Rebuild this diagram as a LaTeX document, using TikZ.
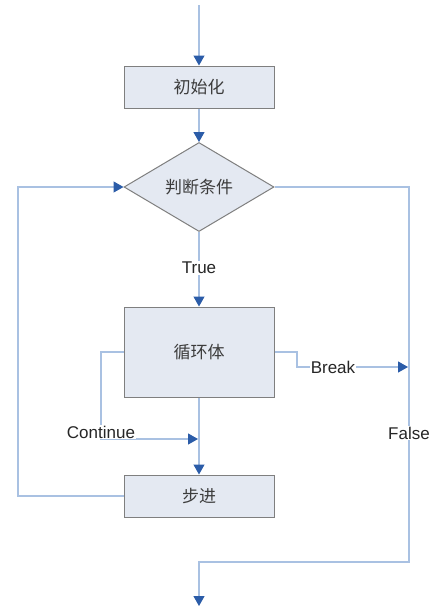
\documentclass[tikz,border=0pt]{standalone}
\usepackage{fontspec}
\setmainfont{Liberation Sans}
\newfontfamily\cjk{Noto Sans CJK SC}
\usetikzlibrary{arrows.meta,shapes.geometric}
\definecolor{lineblue}{HTML}{A9C1E2}
\definecolor{tipblue}{HTML}{2B5CA8}
\definecolor{boxfill}{HTML}{E4E9F2}
\definecolor{boxline}{HTML}{7F7F7F}
\definecolor{txtgray}{HTML}{3C3C3C}
\tikzset{
  stepbox/.style={draw=boxline, fill=boxfill, line width=1pt, minimum width=150pt,
    minimum height=42pt, inner sep=0pt, text=txtgray, font=\cjk\fontsize{17}{17}\selectfont},
  testbox/.style={stepbox, diamond, aspect=1.7, minimum height=89pt},
  flow/.style={draw=lineblue, line width=1.2pt,
    -{Triangle[width=11pt,length=10pt,color=tipblue]}},
  lbl/.style={fill=white, inner sep=1pt, text=black!85, font=\fontsize{17}{17}\selectfont}
}
\begin{document}
\begin{tikzpicture}[x=1pt,y=-1pt]
    \useasboundingbox[fill=white] (0,0) rectangle (435,611);

    % boxes on the main axis
    \coordinate (top) at (199,5);
    \node[stepbox] (init) at (199,87) {初始化};
    \node[testbox] (cond) at (199,187) {判断条件};
    \node[stepbox, minimum height=90pt] (body) at (199,352) {循环体};
    \node[stepbox] (step) at (199,496) {步进};
    \coordinate (end) at (199,606);

    % corner points
    \coordinate (brk) at (297,352);
    \coordinate (brkin) at (408,367);
    \coordinate (cnt) at (101,439);
    \coordinate (cntin) at (198,439);
    \coordinate (lft) at (18,496);
    \coordinate (rgt) at (409,562);
    \coordinate (bot) at (199,562);

    \draw[flow] (top) -- (init);
    \draw[flow] (init) -- (cond);
    \draw[flow] (cond) -- (body);
    \draw[flow] (body) -- (step);
    \draw[flow] (step.west) -- (lft) |- (cond.west);
    \draw[flow] (cond.east) -| (rgt) -- (bot) -- (end);
    \draw[flow] (body.east) -- (brk) |- (brkin);
    \draw[flow] (body.west) -| (cnt) -- (cntin);

    % labels
    \node[lbl] (true) at (199,268) {True};
    \node[lbl] (break) at (333,367) {Break};
    \node[lbl] (continue) at (101,432) {Continue};
    \node[lbl] (false) at (409,433) {False};
\end{tikzpicture}
\end{document}
